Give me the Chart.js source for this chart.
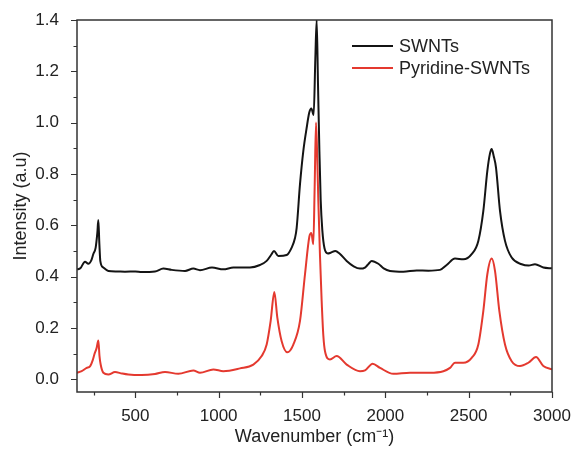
<!DOCTYPE html>
<html>
<head>
<meta charset="utf-8">
<script src="https://cdn.jsdelivr.net/npm/chart.js@4.4.0/dist/chart.umd.min.js"></script>
<style>
  html, body { margin: 0; padding: 0; background: #fff; }
  canvas { display: block; }
</style>
</head>
<body>
<canvas id="raman" width="574" height="449"></canvas>
<script>
// Raman spectra
const swntsX = [150, 170, 198, 218, 235, 248, 262, 272, 278, 284, 290, 308, 338, 390, 438, 500, 538, 618, 668, 718, 798, 848, 888, 960, 1028, 1088, 1188, 1248, 1288, 1315, 1332, 1358, 1408, 1438, 1458, 1468, 1488, 1508, 1528, 1544, 1556, 1570, 1580, 1588, 1596, 1604, 1612, 1622, 1635, 1655, 1672, 1700, 1725, 1768, 1810, 1848, 1878, 1900, 1918, 1958, 1990, 2028, 2108, 2188, 2258, 2328, 2368, 2418, 2468, 2518, 2558, 2588, 2612, 2628, 2638, 2650, 2664, 2688, 2718, 2758, 2818, 2860, 2898, 2948, 3000]
const swntsY = [0.428, 0.432, 0.458, 0.450, 0.462, 0.488, 0.513, 0.57, 0.62, 0.53, 0.46, 0.435, 0.422, 0.42, 0.419, 0.42, 0.418, 0.42, 0.431, 0.426, 0.422, 0.431, 0.425, 0.435, 0.428, 0.435, 0.435, 0.445, 0.461, 0.485, 0.50, 0.48, 0.484, 0.513, 0.55, 0.59, 0.76, 0.89, 0.98, 1.04, 1.055, 1.03, 1.25, 1.40, 1.15, 0.9, 0.7, 0.58, 0.51, 0.49, 0.493, 0.50, 0.49, 0.461, 0.44, 0.431, 0.435, 0.45, 0.461, 0.45, 0.432, 0.422, 0.419, 0.424, 0.423, 0.426, 0.445, 0.47, 0.467, 0.487, 0.539, 0.656, 0.812, 0.88, 0.897, 0.87, 0.825, 0.656, 0.539, 0.474, 0.448, 0.443, 0.448, 0.435, 0.432]

const pyrX = [150, 178, 208, 228, 245, 254, 268, 278, 285, 292, 308, 338, 378, 420, 458, 538, 618, 678, 758, 848, 888, 968, 1028, 1128, 1208, 1258, 1288, 1312, 1334, 1352, 1378, 1412, 1448, 1488, 1518, 1544, 1556, 1568, 1576, 1584, 1592, 1598, 1608, 1618, 1628, 1638, 1668, 1708, 1768, 1848, 1878, 1924, 1968, 2048, 2148, 2268, 2348, 2388, 2418, 2468, 2518, 2558, 2588, 2612, 2638, 2658, 2684, 2718, 2758, 2808, 2858, 2904, 2948, 3000]
const pyrY = [0.025, 0.031, 0.044, 0.05, 0.075, 0.096, 0.122, 0.151, 0.09, 0.057, 0.025, 0.018, 0.028, 0.022, 0.018, 0.016, 0.02, 0.028, 0.021, 0.034, 0.025, 0.038, 0.031, 0.042, 0.057, 0.09, 0.135, 0.227, 0.34, 0.24, 0.148, 0.105, 0.135, 0.227, 0.409, 0.555, 0.57, 0.526, 0.75, 1.0, 0.85, 0.695, 0.48, 0.305, 0.17, 0.109, 0.077, 0.09, 0.057, 0.031, 0.034, 0.06, 0.044, 0.021, 0.025, 0.025, 0.031, 0.044, 0.064, 0.064, 0.083, 0.135, 0.266, 0.409, 0.47, 0.422, 0.266, 0.135, 0.07, 0.051, 0.064, 0.086, 0.051, 0.038]

const seriesNames = ['SWNTs', 'Pyridine-SWNTs']
const xMajor = [500, 1000, 1500, 2000, 2500, 3000]
const xMinor = [250, 750, 1250, 1750, 2250, 2750]
const yMajor = [0.0, 0.2, 0.4, 0.6, 0.8, 1.0, 1.2, 1.4]
const yMinor = [0.1, 0.3, 0.5, 0.7, 0.9, 1.1, 1.3]

const textColor = '#222'
const axisColor = '#333'
const colors = ['#141414', '#e4392f']

const toPoints = (xs, ys) => xs.map((v, i) => ({x: v, y: ys[i]}))

// box around the plot + major/minor tick marks pointing outwards
const frameTicks = {
    id: 'frameTicks',
    afterDraw: (chart) => {
        const ctx = chart.ctx
        const {left, right, top, bottom} = chart.chartArea
        const {x, y} = chart.scales
        ctx.save()
        ctx.strokeStyle = axisColor
        ctx.lineWidth = 1.5
        ctx.strokeRect(left, top, right - left, bottom - top)
        ctx.lineWidth = 1.2
        ctx.beginPath()
        const xmark = (v, len) => {
            const px = Math.round(x.getPixelForValue(v)) + 0.5
            ctx.moveTo(px, bottom)
            ctx.lineTo(px, bottom + len)
        }
        const ymark = (v, len) => {
            const py = Math.round(y.getPixelForValue(v)) + 0.5
            ctx.moveTo(left, py)
            ctx.lineTo(left - len, py)
        }
        xMajor.forEach(v => xmark(v, 6))
        xMinor.forEach(v => xmark(v, 3.5))
        yMajor.forEach(v => ymark(v, 6))
        yMinor.forEach(v => ymark(v, 3.5))
        ctx.stroke()
        ctx.restore()
    }
}

// legend sitting inside the plot, top right
const insideLegend = {
    id: 'insideLegend',
    afterDraw: (chart) => {
        const ctx = chart.ctx
        ctx.save()
        ctx.font = '18px "Liberation Sans", Arial, sans-serif'
        ctx.textBaseline = 'middle'
        ctx.fillStyle = textColor
        seriesNames.forEach((name, i) => {
            const yy = 46 + i * 22
            ctx.strokeStyle = colors[i]
            ctx.lineWidth = 2
            ctx.beginPath()
            ctx.moveTo(352, yy)
            ctx.lineTo(393, yy)
            ctx.stroke()
            ctx.fillText(name, 399, yy + 1)
        })
        ctx.restore()
    }
}

const tickFont = {family: '"Liberation Sans", Arial, sans-serif', size: 17}
const titleFont = {family: '"Liberation Sans", Arial, sans-serif', size: 18}

new Chart(document.getElementById('raman'), {
    type: 'line',
    data: {
        datasets: [{
            label: seriesNames[0],
            data: toPoints(swntsX, swntsY),
            borderColor: colors[0],
            borderWidth: 2,
            pointRadius: 0,
            cubicInterpolationMode: 'monotone',
        }, {
            label: seriesNames[1],
            data: toPoints(pyrX, pyrY),
            borderColor: colors[1],
            borderWidth: 2,
            pointRadius: 0,
            cubicInterpolationMode: 'monotone',
        }]
    },
    options: {
        responsive: false,
        animation: false,
        layout: {padding: {top: 20, right: 22, left: 0, bottom: 0}},
        plugins: {
            legend: {display: false},
            tooltip: {enabled: false},
        },
        scales: {
            x: {
                type: 'linear',
                min: 150,
                max: 3000,
                grid: {display: false},
                border: {display: false},
                afterBuildTicks: (scale) => {
                    scale.ticks = xMajor.map(v => ({value: v}))
                },
                afterFit: (scale) => {
                    scale.height = 57
                    scale.paddingLeft = 0
                    scale.paddingRight = 0
                },
                ticks: {
                    color: textColor,
                    font: tickFont,
                    padding: 6,
                    maxRotation: 0,
                    callback: (v) => v,
                },
                title: {
                    display: true,
                    text: 'Wavenumber (cm⁻¹)',
                    color: textColor,
                    font: titleFont,
                    padding: {top: 0, bottom: 1},
                },
            },
            y: {
                min: -0.05,
                max: 1.4,
                grid: {display: false},
                border: {display: false},
                afterBuildTicks: (scale) => {
                    scale.ticks = yMajor.map(v => ({value: v}))
                },
                afterFit: (scale) => {
                    scale.width = 77
                    scale.paddingTop = 0
                    scale.paddingBottom = 0
                },
                ticks: {
                    color: textColor,
                    font: tickFont,
                    padding: 10,
                    callback: (v) => v.toFixed(1),
                },
                title: {
                    display: true,
                    text: 'Intensity (a.u)',
                    color: textColor,
                    font: titleFont,
                    padding: {top: 10, bottom: 0},
                },
            },
        },
    },
    plugins: [frameTicks, insideLegend]
})
</script>
</body>
</html>
